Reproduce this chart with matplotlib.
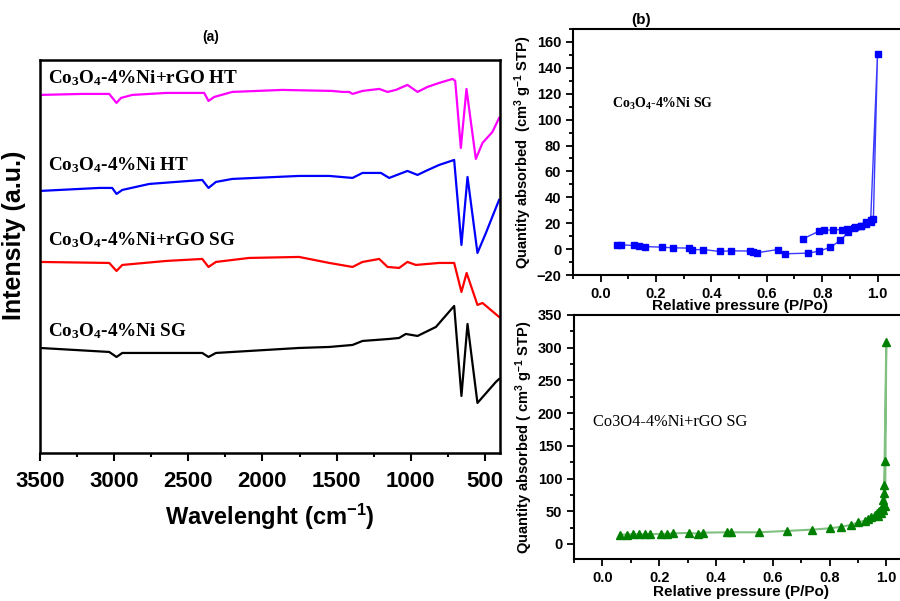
import numpy as np
import matplotlib.pyplot as plt
from matplotlib.ticker import MultipleLocator

plt.rcParams['font.family'] = ['Liberation Sans', 'DejaVu Sans']
plt.rcParams['mathtext.default'] = 'regular'

# ---- FTIR spectra (wavenumber in cm-1, intensity in arbitrary units) ----
wn_ht_rgo = [3500, 3215, 3033, 2984, 2954, 2878, 2649, 2393, 2364, 2325, 2204, 1867,
             1530, 1461, 1416, 1393, 1326, 1213, 1157, 1101, 1023, 955, 888, 809, 719,
             701, 663, 625, 562, 517, 450, 405]
i_ht_rgo = [358, 359, 359, 350, 355, 358, 360, 360, 352, 356, 361, 363,
            362, 361, 361, 359, 362, 364, 361, 363, 368, 361, 366, 370, 374,
            372, 305, 364, 294, 310, 321, 335]

wn_ht = [3500, 3100, 3013, 2984, 2945, 2763, 2406, 2364, 2314, 2204, 1753, 1550,
         1393, 1326, 1202, 1146, 1023, 955, 899, 809, 708, 659, 618, 551, 494, 427, 405]
i_ht = [262, 265, 265, 259, 263, 269, 273, 265, 271, 274, 277, 277,
        275, 280, 280, 275, 282, 278, 282, 288, 293, 208, 276, 200, 220, 245, 253]

wn_sg_rgo = [3500, 3033, 2984, 2945, 2649, 2406, 2364, 2314, 2090, 1753, 1550, 1393,
             1326, 1213, 1157, 1079, 1023, 966, 809, 708, 659, 624, 551, 517, 405]
i_sg_rgo = [191, 190, 182, 188, 192, 194, 186, 191, 195, 196, 190, 186,
            191, 194, 186, 185, 191, 188, 190, 190, 161, 180, 148, 150, 136]

wn_sg = [3500, 3033, 2984, 2945, 2406, 2364, 2314, 1753, 1550, 1393, 1326, 1146,
         1079, 1034, 955, 831, 708, 659, 618, 551, 427, 405]
i_sg = [105, 101, 96, 100, 100, 96, 100, 105, 106, 108, 112, 114,
        115, 119, 117, 126, 147, 57, 129, 50, 71, 74]

ftir_labels = ['Co$_3$O$_4$-4%Ni+rGO HT', 'Co$_3$O$_4$-4%Ni HT',
               'Co$_3$O$_4$-4%Ni+rGO SG', 'Co$_3$O$_4$-4%Ni SG']
ftir_colors = ['#ff00ff', '#0000ff', '#ff0000', '#000000']
label_y = [375, 288, 213, 122]

# ---- N2 isotherms ----
# Co3O4-4%Ni SG : adsorption then desorption branch
p_ni = [0.06, 0.075, 0.12, 0.14, 0.16, 0.22, 0.26, 0.32, 0.33, 0.37, 0.43, 0.47,
        0.54, 0.55, 0.565, 0.64, 0.665, 0.75, 0.79, 0.83, 0.865, 0.895, 0.915,
        0.94, 0.96, 0.975, 0.985, 1.0,
        0.975, 0.96, 0.94, 0.92, 0.89, 0.87, 0.84, 0.805, 0.787, 0.731]
q_ni = [3.3, 3.3, 2.8, 2.3, 2.0, 1.5, 1.0, 0.8, -0.5, -0.3, -1.8, -1.3,
        -1.5, -2.3, -2.8, -0.3, -3.6, -3.1, -1.5, 1.5, 6.7, 13.0, 16.5,
        17.8, 20.6, 22.2, 23.0, 151,
        21.0, 19.5, 18.0, 17.0, 15.5, 15.0, 15.0, 14.4, 13.7, 8.0]

# Co3O4-4%Ni+rGO SG
p_rgo = [0.062, 0.086, 0.109, 0.129, 0.149, 0.167, 0.208, 0.229, 0.247, 0.306,
         0.335, 0.355, 0.438, 0.453, 0.55, 0.65, 0.739, 0.80, 0.839, 0.874, 0.902,
         0.924, 0.935, 0.947, 0.959, 0.968, 0.976, 0.985, 0.989, 0.988, 0.991,
         0.992, 0.994, 1.0, 0.996, 0.99, 0.98, 0.97]
q_rgo = [14.3, 14.3, 14.8, 14.8, 14.8, 14.8, 15.3, 15.3, 16.3, 16.8,
         15.8, 17.3, 17.8, 17.8, 17.8, 19.9, 21.9, 23.9, 26.0, 29.0, 33.0,
         35.7, 38.0, 40.8, 43.8, 46.9, 50.4, 54.5, 59.6, 67.2, 77.4,
         89.7, 127, 309, 58, 52, 47, 43]

fig = plt.figure(figsize=(9, 6.01), dpi=100)

# ---------------- panel (a) ----------------
ax1 = fig.add_axes([0.0444, 0.2463, 0.511, 0.654])
spectra = [(wn_ht_rgo, i_ht_rgo), (wn_ht, i_ht), (wn_sg_rgo, i_sg_rgo), (wn_sg, i_sg)]
for (wn, inten), c, lab, ly in zip(spectra, ftir_colors, ftir_labels, label_y):
    ax1.plot(wn, inten, color=c, lw=1.6)
    ax1.text(3445, ly, lab, fontsize=13.8, fontweight='bold',
             family=['Liberation Serif'], va='center', ha='left')

ax1.set_xlim(3500, 400)
ax1.set_ylim(0, 393)
ax1.set_yticks([])
ax1.xaxis.set_major_locator(MultipleLocator(500))
ax1.xaxis.set_minor_locator(MultipleLocator(250))
ax1.tick_params(axis='x', which='major', direction='out', length=6, width=1.5,
                labelsize=16, pad=7)
ax1.tick_params(axis='x', which='minor', direction='out', length=3, width=1.5)
for lbl in ax1.get_xticklabels():
    lbl.set_fontweight('bold')
for s in ax1.spines.values():
    s.set_linewidth(1.8)
ax1.set_xlabel('Wavelenght (cm$^{-1}$)', fontsize=17, fontweight='bold', labelpad=7)
ax1.set_ylabel('Intensity (a.u.)', fontsize=18, fontweight='bold')
ax1.yaxis.set_label_coords(-0.03, 0.555)
fig.text(211 / 900, 1 - 37 / 601, '(a)', fontsize=10, fontweight='bold',
         ha='center', va='center')

# ---------------- panel (b) top ----------------
ax2 = fig.add_axes([0.6367, 0.5424, 0.37, 0.4093])
ax2.plot(p_ni, q_ni, color='#3a3aff', lw=1, marker='s', ms=5,
         mfc='#0000ff', mec='#0000ff')
ax2.set_xlim(-0.1, 1.103)
ax2.set_ylim(-20, 170)
ax2.xaxis.set_minor_locator(MultipleLocator(0.1))
ax2.yaxis.set_major_locator(MultipleLocator(20))
ax2.yaxis.set_minor_locator(MultipleLocator(10))
ax2.set_xticks(np.arange(0, 1.01, 0.2))
ax2.set_xlabel('Relative pressure (P/Po)', fontsize=11, fontweight='bold', labelpad=-1)
ax2.set_ylabel('Quantity absorbed  (cm$^3$ g$^{-1}$ STP)', fontsize=10.5,
               fontweight='bold', labelpad=2)
ax2.text(0.042, 112, 'Co$_3$O$_4$-4%Ni SG', fontsize=10, fontweight='bold',
         family=['Liberation Serif'], va='center')
fig.text(641 / 900, 1 - 20 / 601, '(b)', fontsize=11, fontweight='bold',
         ha='center', va='center')

# ---------------- panel (b) bottom ----------------
ax3 = fig.add_axes([0.6378, 0.0699, 0.37, 0.406])
ax3.plot(p_rgo, q_rgo, color='#80c080', lw=1.5, marker='^', ms=6,
         mfc='#008000', mec='#008000')
ax3.set_xlim(-0.1, 1.073)
ax3.set_ylim(-23, 350)
ax3.xaxis.set_minor_locator(MultipleLocator(0.1))
ax3.yaxis.set_major_locator(MultipleLocator(50))
ax3.yaxis.set_minor_locator(MultipleLocator(25))
ax3.set_xticks(np.arange(0, 1.01, 0.2))
ax3.set_xlabel('Relative pressure (P/Po)', fontsize=11, fontweight='bold', labelpad=0)
ax3.set_ylabel('Quantity absorbed ( cm$^3$ g$^{-1}$ STP)', fontsize=10.5,
               fontweight='bold', labelpad=2)
ax3.text(-0.033, 187, 'Co3O4-4%Ni+rGO SG', fontsize=11.8,
         family=['Liberation Serif'], va='center')

for ax in (ax2, ax3):
    ax.tick_params(which='major', direction='out', length=5, width=1.3, labelsize=10.5)
    ax.tick_params(which='minor', direction='out', length=3, width=1.3)
    for lbl in ax.get_xticklabels() + ax.get_yticklabels():
        lbl.set_fontweight('bold')
    for s in ax.spines.values():
        s.set_linewidth(1.5)

fig.savefig('out.png', dpi=100)
